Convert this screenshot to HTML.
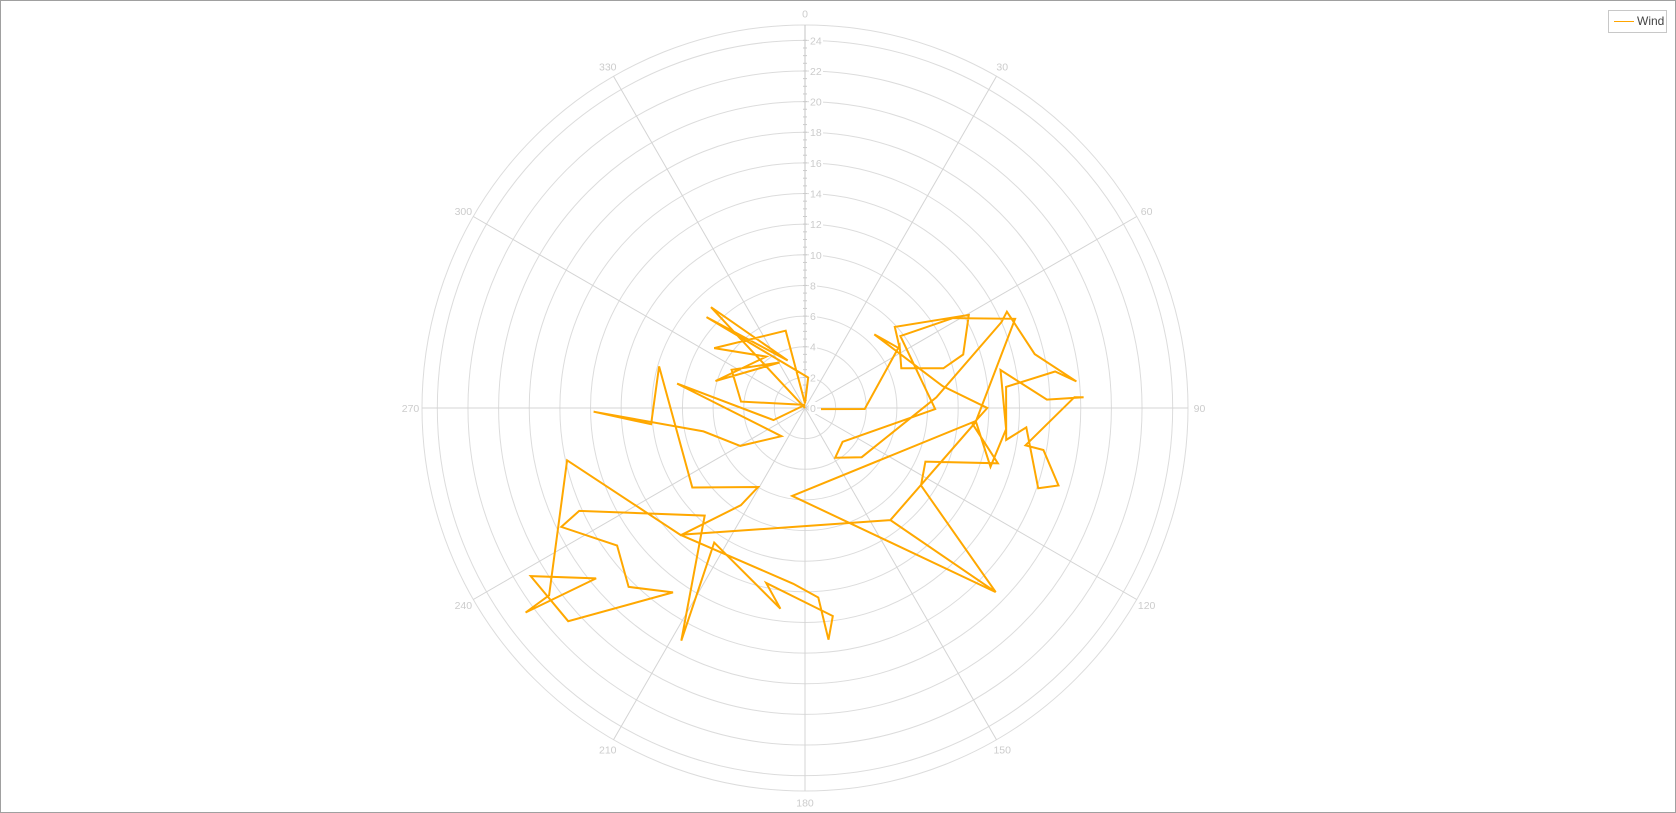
<!DOCTYPE html>
<html><head><meta charset="utf-8"><style>
html,body{margin:0;padding:0;background:#fff;}
#wrap{position:relative;width:1676px;height:813px;overflow:hidden;}
#frame{position:absolute;left:0;top:0;width:1674px;height:811px;border:1px solid #a0a0a0;}
#legend{position:absolute;left:1608px;top:10px;width:57px;height:21px;border:1px solid #c8c8c8;background:#fff;font-family:"Liberation Sans",sans-serif;font-size:12px;color:#444;}
#legend .sw{position:absolute;left:5px;top:10px;width:20px;height:1px;background:#FFA500;}
#legend .tx{position:absolute;left:28px;top:3px;}
</style></head><body>
<div id="wrap">
<div id="frame"></div>
<svg id="chart" width="1676" height="813" style="position:absolute;left:0;top:0"></svg>
<div id="legend"><div class="sw"></div><div class="tx">Wind</div></div>
</div>
<script>
const directions = [0,317,340,312.7,6,0,346,303.4,323,286.8,330.8,297.5,275.7,0,249,280.8,220,239.7,257,269,264,285.9,234.8,210.7,213.4,224.3,257.6,233.8,233.8,230.8,238.5,228,215.6,224.6,233.8,244,245.5,223,208,214,187,192.5,172.4,174.2,176,183.8,224.5,142.7,134,188.3,94.3,67,58.7,53,90.5,132,148.7,131,85.4,66.4,64.5,76.8,84.4,81.7,84,99,95,109,107,100,99.6,87.7,87.8,88,79,96,107.6,94.6,142.7,134,123.7,114,106,95.5,90,81,43.3,58,47.9,60.4,71.3,74,67.6,56.6,91,94];
const speeds = [0,9.0,3.3,8.75,2.0,0.3,5.2,7.1,4.2,6.1,3.4,5.4,4.2,0.2,2.2,8.5,2.4,4.9,6.8,13.8,10.1,9.9,9.0,6.0,7.6,11.6,15.9,20.7,22.6,17.6,21.0,20.8,14.8,16.4,15.2,17.7,16.2,9.6,17.2,10.6,13.2,11.7,13.7,15.2,12.4,11.5,11.6,9.2,17.3,5.8,11.2,14.9,11.3,7.8,8.5,3.3,3.8,4.9,8.6,14.0,14.6,15.4,17.8,16.5,13.2,13.3,14.5,16.1,17.3,15.8,14.6,17.6,18.2,15.8,13.0,13.2,12.7,11.2,9.2,17.3,9.1,8.6,13.1,11.0,11.9,9.1,6.6,7.3,7.9,12.3,10.9,9.4,6.8,7.4,3.9,1.05];
const radialTicks = [0,2,4,6,8,10,12,14,16,18,20,22,24];
const angleTicks = [0,30,60,90,120,150,180,210,240,270,300,330];
const rMax = 25;

const svg = document.getElementById('chart');
const NS = 'http://www.w3.org/2000/svg';
const cx = 805, cy = 408, R = 383;
function rScale(v){ return v / rMax * R; }
function px(a, v){ const t = a*Math.PI/180; return [cx + rScale(v)*Math.sin(t), cy - rScale(v)*Math.cos(t)]; }
function mk(tag, attrs){ const e = document.createElementNS(NS, tag); for (const k in attrs) e.setAttribute(k, attrs[k]); svg.appendChild(e); return e; }

const oc = mk('circle', {cx:cx, cy:cy, r:R, fill:'none', stroke:'#dcdcdc', 'stroke-width':1});


radialTicks.forEach(v => {
  if (v === 0) return;
  const c = mk('circle', {cx:cx, cy:cy, r:rScale(v), fill:'none', stroke:'#dcdcdc', 'stroke-width':1});
  
  
});
angleTicks.forEach(a => {
  const p = px(a, rMax);
  const l = mk('line', {x1:cx, y1:cy, x2:p[0], y2:p[1], stroke: a===0 ? '#c4c4c4' : '#d4d4d4', 'stroke-width':1});
  
  
  const q = px(a, rMax + 0.75);
  const t = mk('text', {x:q[0], y:q[1]+4, 'text-anchor':'middle', 'font-family':'Liberation Sans, sans-serif', 'font-size':10.5, fill:'#cccccc'});
  t.textContent = a;
  
  
});
for (let v = 0; v <= 24; v += 0.5) {
  const y = cy - rScale(v);
  const tk = mk('line', {x1:cx-2, y1:y, x2:cx+2, y2:y, stroke:'#cccccc', 'stroke-width':1});
  
  
}
radialTicks.forEach(v => {
  const y = cy - rScale(v);
  const bg = mk('rect', {x:cx+4, y:y-6, width: v>=10?14:8, height:12, fill:'#fff'});
  
  
  const t = mk('text', {x:cx+5, y:y+4, 'font-family':'Liberation Sans, sans-serif', 'font-size':10.5, fill:'#cccccc'});
  t.textContent = v;
  
  
});
const pts = directions.map((a,i) => px(a, speeds[i]).map(n => n.toFixed(1)).join(',')).join(' ');
const line = mk('polyline', {points:pts, fill:'none', stroke:'#FFA800', 'stroke-width':2, 'stroke-linejoin':'miter'});


</script>
</body></html>
